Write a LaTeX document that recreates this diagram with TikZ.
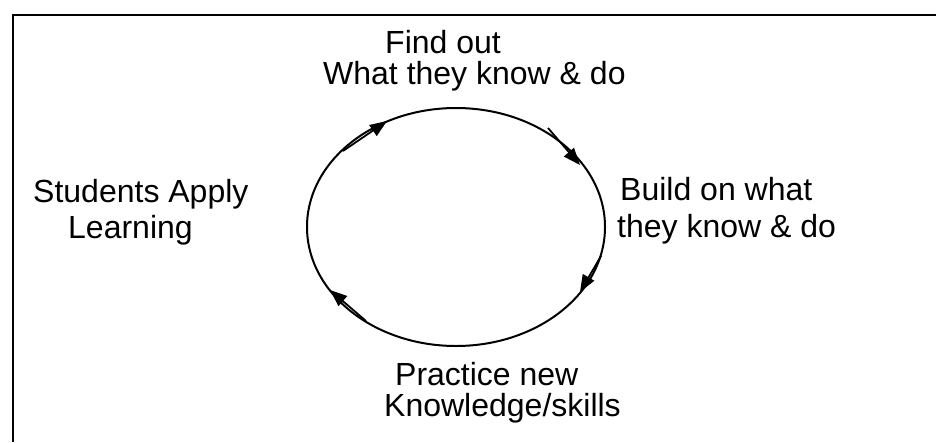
\documentclass[tikz,border=0pt]{standalone}
\usepackage{fontspec}
\setmainfont{Liberation Sans}
\usetikzlibrary{arrows.meta}
\begin{document}
\begin{tikzpicture}[x=1pt,y=-1pt,
  lbl/.style={anchor=base west,inner sep=0pt,font=\fontsize{32}{38}\selectfont},
  cyc/.style={line width=2pt},
  tip/.style={line width=1.8pt,-{Triangle[length=17pt,width=13pt]}}]
\useasboundingbox (0,0) rectangle (936,442);
\draw[line width=2.6pt] (13,442) -- (13,15) -- (936,15);
\draw[cyc] (456,227) ellipse [x radius=149pt, y radius=119pt];
\node[lbl] (f1) at (385,53) {Find out};
\node[lbl] (f2) at (323,84) {What they know \& do};
\node[lbl] (s1) at (33,202) {Students Apply};
\node[lbl] (s2) at (68,238) {Learning};
\node[lbl] (b1) at (620,200) {Build on what};
\node[lbl] (b2) at (617,237) {they know \& do};
\node[lbl] (p1) at (395,385) {Practice new};
\node[lbl] (p2) at (384,416) {Knowledge/skills};
\coordinate (a1s) at (343,151); \coordinate (a1e) at (387,121);
\coordinate (a2s) at (548,128); \coordinate (a2e) at (580,165);
\coordinate (a3s) at (601,256); \coordinate (a3e) at (580,292);
\coordinate (a4s) at (366,321); \coordinate (a4e) at (330,290);
\draw[tip] (a1s) -- (a1e);
\draw[tip] (a2s) -- (a2e);
\draw[tip] (a3s) -- (a3e);
\draw[tip] (a4s) -- (a4e);
\end{tikzpicture}
\end{document}
